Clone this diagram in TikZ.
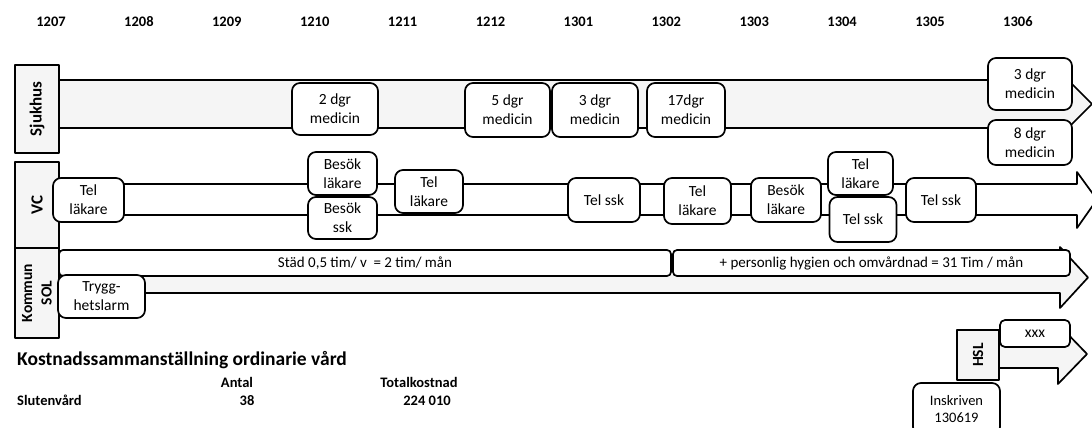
\documentclass[tikz,border=0pt]{standalone}
\usepackage{fontspec}
\setmainfont{Carlito}
\begin{document}
\begin{tikzpicture}[x=1pt,y=-1pt,
  ln/.style={line width=1.7pt, line join=round},
  bx/.style={ln, draw, rounded corners=8pt, fill=white, align=center, inner sep=0pt, font=\fontsize{15.5}{19}\selectfont},
  lab/.style={ln, draw, fill=black!4, rotate=90, align=center, inner sep=0pt, font=\bfseries\fontsize{17}{20}\selectfont},
  band/.style={ln, draw},
  mon/.style={font=\bfseries\fontsize{14.5}{17}\selectfont, anchor=base},
  tab/.style={font=\bfseries\fontsize{14.5}{17}\selectfont, anchor=base}]
\useasboundingbox (0,0) rectangle (1092,428);

% month labels
\foreach \m [count=\i from 0] in {1207,1208,1209,1210,1211,1212,1301,1302,1303,1304,1305,1306}
  \node[mon] (m\m) at ({51+87.9*\i},27) {\m};

% arrow bodies
\draw[band, fill=black!4] (59,80) -- (1068,80) -- (1092,104) -- (1068,128) -- (59,128) -- cycle;
\draw[band, fill=white] (59,184) -- (1077,184) -- (1077,172) -- (1097,199.5) -- (1077,228) -- (1077,215) -- (59,215) -- cycle;
\draw[band, fill=black!4] (59,262) -- (1060,262) -- (1060,247) -- (1088,277.5) -- (1060,308) -- (1060,293) -- (59,293) -- cycle;
\draw[band, fill=black!4] (999,340) -- (1058,340) -- (1058,324) -- (1087,354) -- (1058,384) -- (1058,368) -- (999,368) -- cycle;

% row labels
\node[lab, minimum width=88pt, minimum height=44pt] (lsj) at (37,109) {Sjukhus};
\node[lab, minimum width=86pt, minimum height=44pt] (lvc) at (37,205) {VC};
\node[lab, minimum width=90pt, minimum height=44pt, font=\bfseries\fontsize{15.5}{19.5}\selectfont] (lko) at (37,293) {Kommun\\SOL};
\node[lab, minimum width=50pt, minimum height=42pt, font=\bfseries\fontsize{15.5}{19}\selectfont] (lhsl) at (978,355) {HSL};

% Sjukhus boxes
\node[bx, minimum width=86pt, minimum height=52pt] (s1) at (335,109) {2 dgr\\medicin};
\node[bx, minimum width=85pt, minimum height=54pt] (s2) at (507.5,110) {5 dgr\\medicin};
\node[bx, minimum width=86pt, minimum height=54pt] (s3) at (595,110) {3 dgr\\medicin};
\node[bx, minimum width=78pt, minimum height=54pt] (s4) at (686,110) {17dgr\\medicin};
\node[bx, minimum width=84pt, minimum height=52pt] (s5) at (1030,84) {3 dgr\\medicin};
\node[bx, minimum width=84pt, minimum height=45pt] (s6) at (1030,142.5) {8 dgr\\medicin};

% VC boxes
\node[bx, minimum width=71pt, minimum height=44pt] (v1) at (88.5,200) {Tel\\läkare};
\node[bx, minimum width=69pt, minimum height=43pt] (v2) at (342.5,173.5) {Besök\\läkare};
\node[bx, minimum width=69pt, minimum height=42pt] (v3) at (342.5,218) {Besök\\ssk};
\node[bx, minimum width=68pt, minimum height=43pt] (v4) at (429,191.5) {Tel\\läkare};
\node[bx, minimum width=72pt, minimum height=44pt] (v5) at (604,200) {Tel ssk};
\node[bx, minimum width=67pt, minimum height=46pt] (v6) at (697.5,201) {Tel\\läkare};
\node[bx, minimum width=70pt, minimum height=44pt] (v7) at (786,200) {Besök\\läkare};
\node[bx, minimum width=65pt, minimum height=43pt] (v8) at (860.5,173.5) {Tel\\läkare};
\node[bx, minimum width=67pt, minimum height=45pt] (v9) at (863,219.5) {Tel ssk};
\node[bx, minimum width=70pt, minimum height=44pt] (v10) at (941,200) {Tel ssk};

% Kommun boxes
\node[bx, rounded corners=4pt, minimum width=612pt, minimum height=26pt, font=\fontsize{15}{18}\selectfont] (k1) at (365,263) {Städ 0,5 tim/ v \ = 2 tim/ mån};
\node[bx, rounded corners=4pt, minimum width=397pt, minimum height=26pt, font=\fontsize{15}{18}\selectfont] (k2) at (871.5,263) {+ personlig hygien och omvårdnad = 31 Tim / mån};
\node[bx, minimum width=87pt, minimum height=43pt] (k3) at (101.5,296.5) {Trygg-\\hetslarm};

% HSL
\node[bx, rounded corners=5pt, minimum width=70pt, minimum height=27pt] (h1) at (1035,333.5) {xxx};
\node[bx, minimum width=87pt, minimum height=52pt, font=\fontsize{14.5}{17}\selectfont] (h2) at (956.5,409) {Inskriven\\130619};

% cost summary
\node[anchor=base west, inner sep=0pt, font=\bfseries\fontsize{19.5}{23}\selectfont] (head) at (17,365.5) {Kostnadssammanställning ordinarie vård};
\node[tab] (tA) at (237,387) {Antal};
\node[tab] (tT) at (419,387) {Totalkostnad};
\node[tab, anchor=base west, inner sep=0pt] (tS) at (17,405.5) {Slutenvård};
\node[tab] (t38) at (247,405.5) {38};
\node[tab] (tK) at (427,405.5) {224 010};
\end{tikzpicture}
\end{document}
